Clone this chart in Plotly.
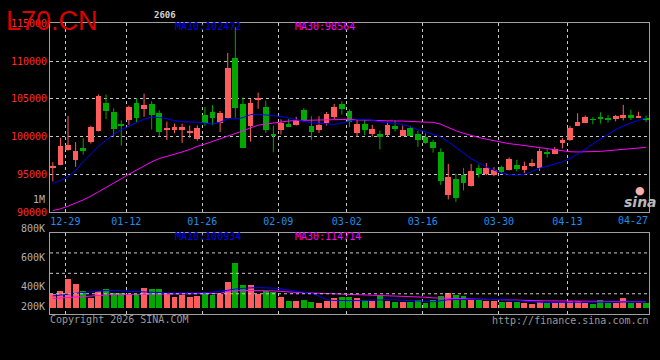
import plotly.graph_objects as go
import pandas as pd

# ---------------- data ----------------
holidays = ["2026-01-01", "2026-01-02", "2026-02-16", "2026-02-17", "2026-02-18",
            "2026-02-19", "2026-02-20", "2026-02-23", "2026-04-06"]
dates = [d.strftime("%m-%d") for d in pd.bdate_range("2025-12-25", "2026-04-27")
         if d.strftime("%Y-%m-%d") not in holidays]

opens = [95850, 96320, 98250, 97010, 98500, 99400, 100770, 104530, 103250, 101620,
         102270, 104530, 103760, 104400, 103120, 100940, 100900, 100980, 100470, 99740,
         102860, 103250, 101880, 102480, 110430, 104320, 101500, 104920, 104020, 100430,
         100980, 101670, 101620, 103630, 101450, 100980, 101880, 102610, 104320, 103380,
         100470, 101710, 100340, 100340, 100210, 101450, 100090, 101240, 100430, 100000,
         99360, 97950, 92310, 94490, 95000, 93460, 95900, 95130, 94910, 96030,
         95600, 96280, 95640, 96150, 95940, 98080, 97740, 99150, 99660, 101500,
         101840, 102350, 102690, 102520, 102390, 102480, 102860, 102610, 102560]
highs = [96600, 99830, 102730, 99270, 99790, 101410, 105560, 105560, 103720, 102140,
         104100, 105090, 105680, 104660, 103460, 101970, 101710, 101710, 101450, 101450,
         103890, 104150, 103380, 111070, 114500, 105170, 104960, 105810, 104740, 101450,
         102270, 102310, 102610, 103760, 102690, 102690, 103250, 104320, 104660, 103590,
         102310, 102310, 101540, 100810, 101970, 102140, 101450, 101410, 100770, 100430,
         99570, 98420, 96370, 95090, 95850, 96370, 96280, 96500, 95940, 96150,
         97220, 96920, 96670, 97010, 98420, 98420, 98630, 99790, 101410, 103080,
         102780, 102560, 103210, 102860, 102860, 104190, 103550, 103290, 102780]
lows = [94050, 96200, 98120, 95980, 97610, 99060, 100680, 102310, 99920, 98800,
        101540, 101880, 102610, 100940, 100000, 99530, 100430, 99150, 99830, 99440,
        101410, 101500, 100600, 102310, 102480, 98460, 99320, 103680, 100470, 97910,
        100260, 101240, 101450, 101970, 99570, 100470, 101450, 102310, 102910, 101240,
        99960, 100170, 100000, 98290, 99960, 100680, 100040, 100040, 98630, 99060,
        97860, 93590, 91670, 91320, 92860, 93380, 94570, 94870, 94740, 95130,
        95510, 95380, 95170, 95940, 95430, 97220, 97650, 98420, 99440, 101500,
        101800, 101620, 101710, 101840, 102010, 102140, 102180, 102480, 101920]
closes = [96200, 98760, 98890, 98120, 98160, 101320, 105430, 103380, 101070, 101500,
          104020, 102520, 104190, 102860, 100680, 101200, 101320, 101320, 100770, 101240,
          101840, 102480, 103120, 109150, 103890, 98550, 104530, 105170, 100980, 100130,
          101840, 101450, 102180, 102220, 100600, 101620, 102990, 104020, 103760, 102050,
          101710, 100980, 101070, 100130, 101540, 101110, 100940, 100170, 99570, 99230,
          98500, 94230, 94740, 91970, 93890, 95510, 95130, 95900, 95640, 95340,
          97050, 95810, 96150, 96580, 98160, 97740, 98420, 99570, 101150, 102050,
          102690, 102270, 102480, 102270, 102740, 102860, 102520, 102820, 102350]
ma10 = [93800, 94150, 94700, 95500, 96700, 97700, 98700, 99500, 100300, 100900,
        101350, 101800, 102300, 102550, 102520, 102350, 102100, 101970, 101960, 101900,
        101780, 101650, 101900, 102350, 102330, 102500, 102900, 102950, 102850, 102780,
        102650, 102450, 102200, 101950, 101800, 101750, 101700, 101600, 101800, 102000,
        102250, 102250, 102150, 101950, 101850, 101750, 101600, 101300, 100900, 100620,
        100300, 99950, 99300, 98600, 97800, 97050, 96500, 95980, 95550, 95150,
        94950, 94900, 94980, 95380, 95800, 96050, 96350, 96650, 97100, 97650,
        98300, 99020, 99680, 100320, 100900, 101400, 101820, 102150, 102470]
ma30 = [90200, 90420, 90780, 91150, 91600, 92100, 92650, 93200, 93800, 94400,
        95000, 95550, 96150, 96650, 97080, 97350, 97650, 97950, 98280, 98700,
        99000, 99350, 99620, 100050, 100400, 100750, 101150, 101500, 101650, 101800,
        101950, 102050, 102120, 102150, 102180, 102180, 102180, 102250, 102300, 102270,
        102200, 102150, 102100, 102060, 102050, 102050, 102050, 102050, 101950, 101900,
        101880, 101630, 101150, 100750, 100420, 100120, 99870, 99650, 99420, 99200,
        99050, 98940, 98800, 98620, 98510, 98320, 98170, 98080, 97980, 97950,
        97950, 97990, 98030, 98120, 98200, 98230, 98310, 98410, 98564]
volume = [313, 336, 431, 385, 333, 274, 333, 351, 320, 320,
          300, 313, 359, 351, 351, 320, 282, 300, 282, 290,
          328, 300, 308, 405, 551, 382, 377, 313, 333, 326,
          282, 251, 251, 262, 249, 236, 256, 274, 282, 282,
          280, 264, 254, 290, 254, 244, 244, 244, 264, 238,
          259, 297, 315, 305, 297, 264, 259, 256, 256, 249,
          244, 244, 236, 228, 244, 236, 236, 244, 256, 256,
          236, 233, 264, 236, 236, 280, 236, 236, 236]  # thousands
vol_ma10 = [290, 298, 306, 315, 318, 322, 328, 333, 333, 330,
            326, 322, 318, 316, 315, 314, 314, 313, 313, 313,
            316, 320, 326, 335, 345, 351, 354, 356, 355, 352,
            346, 338, 328, 320, 310, 290, 260, 254, 253, 252,
            251, 253, 257, 261, 260, 259, 257, 256, 251, 248,
            244, 252, 260, 262, 263, 264, 264, 263, 262, 261,
            259, 254, 248, 242, 240, 239, 239, 239, 241, 243,
            242, 239, 240, 243, 242, 242, 243, 243, 243]
vol_ma30 = [270, 273, 277, 281, 285, 289, 294, 299, 301, 302,
            303, 304, 305, 307, 308, 308, 308, 308, 308, 308,
            308, 308, 310, 328, 332, 333, 333, 333, 333, 330,
            326, 320, 318, 316, 314, 313, 308, 305, 304, 302,
            301, 300, 298, 295, 291, 289, 287, 285, 283, 280,
            275, 272, 270, 269, 268, 266, 264, 263, 261, 259,
            257, 255, 253, 251, 251, 251, 251, 250, 249, 248,
            247, 246, 246, 245, 245, 245, 244, 244, 244]
tick_dates = ["12-29", "01-12", "01-26", "02-09", "03-02", "03-16", "03-30", "04-13"]
last_date_label = "04-27"
price_ticks = [90000, 95000, 100000, 105000, 110000, 115000]
vol_tick_text = ["200K", "400K", "600K", "800K"]
vol_base = 200

# ---------------- styling constants ----------------
W, H = 660, 360
PL, PR = 50, 649
MAIN_T, MAIN_B = 18, 213
VOL_T, VOL_B = 234, 318
VOL_LABEL_PX = [310.5, 290, 260, 230]   # pixel rows of the volume scale labels
RED, GREEN = "#ff5c5c", "#00a800"
BLUE, MAG = "#0000ff", "#ff00ff"
GRID = "#c8c8c8"
BORDER = "#a0a0a0"
MONO = "DejaVu Sans Mono"
DATE_BLUE = "#1c8ff0"
STEP = 7.606          # px per trading day
FIRST = 52.8          # px of first candle
GRID_SHIFT = 0.35     # gridline sits slightly left of its candle

n = len(dates)
assert all(len(a) == n for a in [opens, highs, lows, closes, ma10, ma30, volume, vol_ma10, vol_ma30])
xs = list(range(n))
x0 = -(FIRST - PL) / STEP
x1 = x0 + (PR - PL) / STEP
up = [c >= o for o, c in zip(opens, closes)]

fig = go.Figure()

# wicks
for flag, col in [(True, RED), (False, GREEN)]:
    wx, wy = [], []
    for i in xs:
        if up[i] == flag:
            wx += [i, i, None]
            wy += [lows[i], highs[i], None]
    fig.add_trace(go.Scatter(x=wx, y=wy, mode="lines", line=dict(color=col, width=1),
                             xaxis="x", yaxis="y", hoverinfo="skip"))

# bodies
for flag, col in [(True, RED), (False, GREEN)]:
    bx = [i for i in xs if up[i] == flag]
    fig.add_trace(go.Bar(
        x=bx,
        y=[max(abs(closes[i] - opens[i]), 90) for i in bx],
        base=[min(opens[i], closes[i]) for i in bx],
        width=0.75, marker=dict(color=col, line=dict(width=0)),
        xaxis="x", yaxis="y"))

# moving averages
fig.add_trace(go.Scatter(x=xs, y=ma30, mode="lines", line=dict(color=MAG, width=1), xaxis="x", yaxis="y"))
fig.add_trace(go.Scatter(x=xs, y=ma10, mode="lines", line=dict(color=BLUE, width=1), xaxis="x", yaxis="y"))

# volume
fig.add_trace(go.Bar(
    x=xs, y=[v - vol_base for v in volume], base=vol_base, width=0.78,
    marker=dict(color=[RED if u else GREEN for u in up], line=dict(width=0)),
    xaxis="x2", yaxis="y2"))
fig.add_trace(go.Scatter(x=xs, y=vol_ma30, mode="lines", line=dict(color=MAG, width=1), xaxis="x2", yaxis="y2"))
fig.add_trace(go.Scatter(x=xs, y=vol_ma10, mode="lines", line=dict(color=BLUE, width=1), xaxis="x2", yaxis="y2"))

grid_x = [dates.index(d) - GRID_SHIFT for d in tick_dates]

axis_common = dict(showline=True, linecolor=BORDER, linewidth=1, mirror=True,
                   zeroline=False, ticks="", fixedrange=True)

fig.update_layout(
    width=W, height=H,
    margin=dict(l=0, r=0, t=0, b=0),
    paper_bgcolor="black", plot_bgcolor="black",
    showlegend=False, barmode="overlay", bargap=0,
    xaxis=dict(domain=[PL / W, PR / W], range=[x0, x1], anchor="y",
               tickmode="array", tickvals=grid_x, ticktext=tick_dates,
               tickfont=dict(family=MONO, size=10, color=DATE_BLUE),
               showgrid=True, gridcolor=GRID, griddash="dot", gridwidth=1,
               **axis_common),
    yaxis=dict(domain=[1 - MAIN_B / H, 1 - MAIN_T / H], range=[89990, 115100], anchor="x",
               tickmode="array", tickvals=price_ticks, ticktext=[str(v) for v in price_ticks],
               tickfont=dict(family=MONO, size=10, color="#ff2a2a"),
               showgrid=True, gridcolor=GRID, griddash="dot", gridwidth=1,
               **axis_common),
    xaxis2=dict(domain=[PL / W, PR / W], range=[x0, x1], anchor="y2",
                tickmode="array", tickvals=grid_x, showticklabels=False,
                showgrid=True, gridcolor=GRID, griddash="dot", gridwidth=1,
                **axis_common),
    yaxis2=dict(domain=[1 - VOL_B / H, 1 - VOL_T / H], range=[146, 792], anchor="x2",
                showticklabels=False, showgrid=False, **axis_common),
)

# horizontal volume gridlines
for f in [0.25, 0.5, 0.75]:
    fig.add_shape(type="line", xref="x2 domain", yref="y2 domain", x0=0, x1=1, y0=f, y1=f,
                  line=dict(color=GRID, width=1, dash="dot"))

def ann(text, x, y, color, size=10, xanchor="left", family=MONO, xref="paper", yref="paper"):
    fig.add_annotation(text=text, x=x, y=y, xref=xref, yref=yref, showarrow=False,
                       xanchor=xanchor, yanchor="middle",
                       font=dict(family=family, size=size, color=color))

# volume axis labels
for t, py in zip(vol_tick_text, VOL_LABEL_PX):
    ann(t, 47 / W, 1 - py / H, "#b0b0b0", xanchor="right")

ann("1M", 47 / W, 1 - 200.5 / H, "#b0b0b0", xanchor="right")
ann(last_date_label, PR / W + 1 / W, 1 - 221.5 / H, DATE_BLUE, xanchor="right")
ann("L70.CN", 4 / W, 1 - 16 / H, "#dd0000", size=27, family="Liberation Sans")
ann("<b>2606</b>", 152 / W, 1 - 10 / H, "#d0d0d0", size=9)
ann("MA10:102472", 173 / W, 1 - 22.5 / H, BLUE)
ann("MA30:98564", 293 / W, 1 - 22.5 / H, MAG)
ann("MA10:100934", 173 / W, 1 - 238.5 / H, BLUE)
ann("MA30:114714", 293 / W, 1 - 238.5 / H, MAG)
ann("Copyright 2026 SINA.COM", 48 / W, 1 - 323.5 / H, "#9a9a9a")
ann("http://finance.sina.com.cn", 651 / W, 1 - 324 / H, "#9a9a9a", xanchor="right")
ann("<b><i>sina</i></b>", 622 / W, 1 - 203 / H, "#b8b8b8", size=14, family="DejaVu Sans")
ann("●", 633 / W, 1 - 191 / H, "#f4b0b0", size=11, family="DejaVu Sans")

fig.write_html("out.html", config={"displayModeBar": False},
               post_script="document.body.style.margin='0';document.body.style.overflow='hidden';")
